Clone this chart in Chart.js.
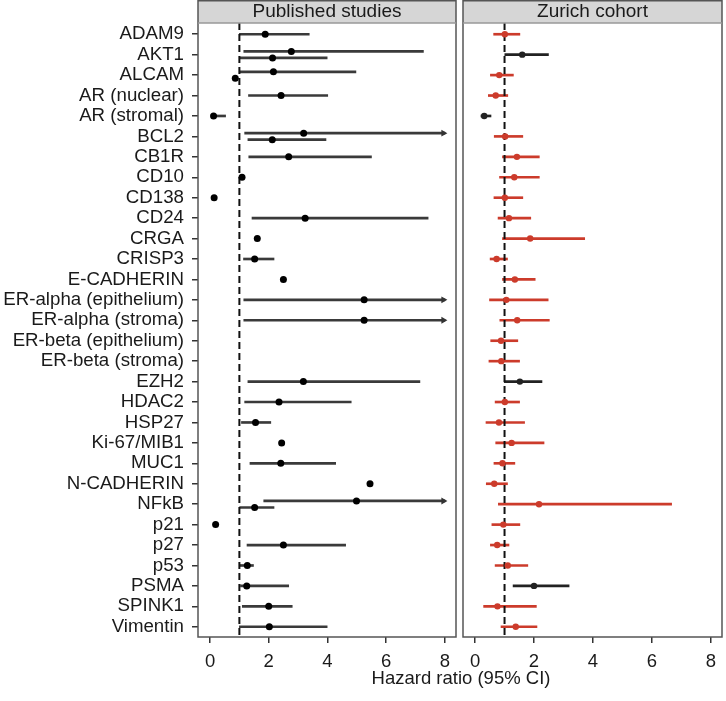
<!DOCTYPE html>
<html>
<head>
<meta charset="utf-8">
<script src="https://cdn.jsdelivr.net/npm/chart.js@4.4.1/dist/chart.umd.min.js"></script>
<style>
  body { margin: 0; background: #fff; }
  #wrap { position: relative; width: 726px; height: 701px; font-family: 'Liberation Sans', Arial, sans-serif; }
  canvas { position: absolute; top: 0; }
  #xtitle { position: absolute; left: 198px; width: 526px; top: 668px; text-align: center; font-size: 18.5px; line-height: 20px; color: #1a1a1a; }
</style>
</head>
<body>
<div id="wrap">
  <canvas id="published" width="460" height="701" style="left:0"></canvas>
  <canvas id="zurich" width="268" height="701" style="left:458px"></canvas>
  <div id="xtitle">Hazard ratio (95% CI)</div>
</div>
<script>
// Markers, top to bottom
const markers = ["ADAM9", "AKT1", "ALCAM", "AR (nuclear)", "AR (stromal)", "BCL2", "CB1R", "CD10", "CD138", "CD24",
    "CRGA", "CRISP3", "E-CADHERIN", "ER-alpha (epithelium)", "ER-alpha (stroma)", "ER-beta (epithelium)", "ER-beta (stroma)",
    "EZH2", "HDAC2", "HSP27", "Ki-67/MIB1", "MUC1", "N-CADHERIN", "NFkB", "p21", "p27", "p53", "PSMA", "SPINK1", "Vimentin"]

const xTicks = [0, 2, 4, 6, 8]

// Published studies (null CI = not reported, null upper = beyond the axis)
const pubMarker = ["ADAM9", "AKT1", "AKT1", "ALCAM", "ALCAM", "AR (nuclear)", "AR (stromal)", "BCL2", "BCL2", "CB1R",
    "CD10", "CD138", "CD24", "CRGA", "CRISP3", "E-CADHERIN", "ER-alpha (epithelium)", "ER-alpha (stroma)", "EZH2", "HDAC2",
    "HSP27", "Ki-67/MIB1", "MUC1", "N-CADHERIN", "NFkB", "NFkB", "p21", "p27", "p53", "PSMA", "SPINK1", "Vimentin"]
const pubHR = [1.88, 2.77, 2.13, 2.16, 0.86, 2.42, 0.12, 3.19, 2.12, 2.68,
    1.09, 0.14, 3.24, 1.61, 1.52, 2.5, 5.25, 5.25, 3.18, 2.35,
    1.55, 2.44, 2.41, 5.45, 4.99, 1.52, 0.19, 2.5, 1.27, 1.25, 2.0, 2.02]
const pubLow = [1.0, 1.15, 1.0, 1.0, null, 1.31, 0.05, 1.18, 1.29, 1.32,
    null, null, 1.43, null, 1.14, null, 1.15, 1.15, 1.29, 1.18,
    1.07, null, 1.36, null, 1.83, 1.01, null, 1.26, 1.01, 1.04, 1.1, 1.0]
const pubHigh = [3.38, 7.27, 3.99, 4.97, null, 4.01, 0.53, null, 3.95, 5.5,
    null, null, 7.43, null, 2.18, null, null, null, 7.15, 4.81,
    2.07, null, 4.28, null, null, 2.18, null, 4.62, 1.48, 2.68, 2.8, 3.99]

// Zurich cohort, one per marker
const zurHR = [1.01, 1.6, 0.82, 0.7, 0.31, 1.02, 1.42, 1.33, 1.01, 1.15, 1.87, 0.73, 1.35, 1.06, 1.43,
    0.88, 0.89, 1.52, 1.01, 0.81, 1.24, 0.93, 0.65, 2.17, 0.96, 0.75, 1.11, 2.0, 0.76, 1.38]
const zurLow = [0.63, 1.01, 0.52, 0.45, 0.2, 0.65, 0.93, 0.83, 0.64, 0.78, 0.93, 0.51, 0.93, 0.49, 0.84,
    0.53, 0.47, 0.99, 0.68, 0.37, 0.7, 0.64, 0.38, 0.79, 0.57, 0.52, 0.68, 1.29, 0.29, 0.88]
const zurHigh = [1.52, 2.49, 1.3, 1.11, 0.54, 1.62, 2.18, 2.18, 1.62, 1.89, 3.72, 1.1, 2.04, 2.48, 2.52,
    1.45, 1.51, 2.27, 1.51, 1.68, 2.34, 1.35, 1.1, 6.67, 1.52, 1.15, 1.79, 3.19, 2.08, 2.1]
const zurSignificant = ["AKT1", "AR (stromal)", "EZH2", "PSMA"]

const RED = "#cc3b2b"
const FONT = "'Liberation Sans', Arial, sans-serif"
const X_MIN = -0.41
const X_MAX = 8.38
const Y_MIN = -0.55
const Y_MAX = 29.5

// Strip background and panel frame
const framePlugin = {
    id: "frame",
    beforeDraw(chart) {
        const { ctx, chartArea: a } = chart
        ctx.save()
        ctx.fillStyle = "#d6d6d6"
        ctx.fillRect(a.left, 0, a.right - a.left, a.top)
        ctx.restore()
    },
    afterDraw(chart) {
        const { ctx, chartArea: a } = chart
        ctx.save()
        ctx.strokeStyle = "#555"
        ctx.lineWidth = 1.5
        ctx.strokeRect(a.left, 0.75, a.right - a.left, a.bottom - 0.75)
        ctx.strokeStyle = "#999"
        ctx.beginPath()
        ctx.moveTo(a.left, a.top)
        ctx.lineTo(a.right, a.top)
        ctx.stroke()
        ctx.restore()
    }
}

// Dodge studies that share a marker
function rowPositions(names) {
    const seen = {}
    const counts = {}
    names.forEach(n => counts[n] = (counts[n] || 0) + 1)
    return names.map(n => {
        const k = seen[n] || 0
        seen[n] = k + 1
        return markers.indexOf(n) + (k - (counts[n] - 1) / 2) * 0.32
    })
}

function makePanel(id, title, rows, hr, low, high, lineColor, dotColor, dotRadius, showLabels) {
    const bars = []
    const barColors = []
    const arrows = []
    rows.forEach((y, i) => {
        if (low[i] === null) return
        const hi = high[i] === null ? 8 : high[i]
        bars.push({ x: [low[i], hi], y })
        barColors.push(lineColor[i])
        if (high[i] === null) arrows.push({ x: 7.95, y })
    })
    const points = rows.map((y, i) => ({ x: hr[i], y }))

    return new Chart(document.getElementById(id), {
        type: "bar",
        data: {
            datasets: [
                {
                    type: "scatter",
                    data: points,
                    pointRadius: dotRadius,
                    pointBackgroundColor: dotColor,
                    pointBorderWidth: 0,
                    order: 0
                },
                {
                    type: "scatter",
                    data: arrows,
                    pointStyle: "triangle",
                    rotation: 90,
                    pointRadius: 4,
                    pointBackgroundColor: "#333",
                    pointBorderWidth: 0,
                    order: 0
                },
                {
                    type: "line",
                    data: [{ x: 1, y: Y_MIN }, { x: 1, y: Y_MAX }],
                    borderColor: "#111",
                    borderWidth: 2,
                    borderDash: [7, 4],
                    pointRadius: 0,
                    order: 1
                },
                {
                    type: "bar",
                    data: bars,
                    backgroundColor: barColors,
                    borderWidth: 0,
                    barThickness: 2,
                    grouped: false,
                    order: 2
                }
            ]
        },
        options: {
            responsive: false,
            animation: false,
            indexAxis: "y",
            layout: { padding: { left: showLabels ? 0 : 5, right: 2, top: 0, bottom: 0 } },
            plugins: {
                legend: { display: false },
                tooltip: { enabled: false },
                title: {
                    display: true,
                    text: title,
                    fullSize: false,
                    color: "#1a1a1a",
                    font: { family: FONT, size: 19, weight: "normal" },
                    padding: { top: 0.2, bottom: 0 }
                }
            },
            scales: {
                x: {
                    type: "linear",
                    min: X_MIN,
                    max: X_MAX,
                    offset: false,
                    afterBuildTicks: s => { s.ticks = xTicks.map(v => ({ value: v })) },
                    afterFit: s => { s.height = 64 },
                    border: { display: false },
                    grid: { offset: false, drawOnChartArea: false, drawTicks: true, tickLength: 6, tickColor: "#333", lineWidth: 1.5 },
                    ticks: { color: "#1a1a1a", padding: 8, maxRotation: 0, font: { family: FONT, size: 18.5 } }
                },
                y: {
                    type: "linear",
                    display: showLabels,
                    reverse: true,
                    min: Y_MIN,
                    max: Y_MAX,
                    offset: false,
                    afterBuildTicks: s => { s.ticks = markers.map((m, i) => ({ value: i })) },
                    afterFit: s => { s.width = showLabels ? 198 : 0 },
                    border: { display: false },
                    grid: { offset: false, drawOnChartArea: false, drawTicks: true, tickLength: 6, tickColor: "#333", lineWidth: 1.5 },
                    ticks: {
                        autoSkip: false,
                        color: "#1a1a1a",
                        padding: 8,
                        font: { family: FONT, size: 18.7 },
                        callback: v => markers[v]
                    }
                }
            }
        },
        plugins: [framePlugin]
    })
}

// Published studies panel
const pubRows = rowPositions(pubMarker)
makePanel("published", "Published studies", pubRows, pubHR, pubLow, pubHigh,
    pubMarker.map(() => "#3a3a3a"), "#000", 3.5, true)

// Zurich cohort panel
const zurColors = markers.map(m => zurSignificant.includes(m) ? "#222" : RED)
makePanel("zurich", "Zurich cohort", markers.map((m, i) => i), zurHR, zurLow, zurHigh,
    zurColors, zurColors, 3.2, false)
</script>
</body>
</html>
